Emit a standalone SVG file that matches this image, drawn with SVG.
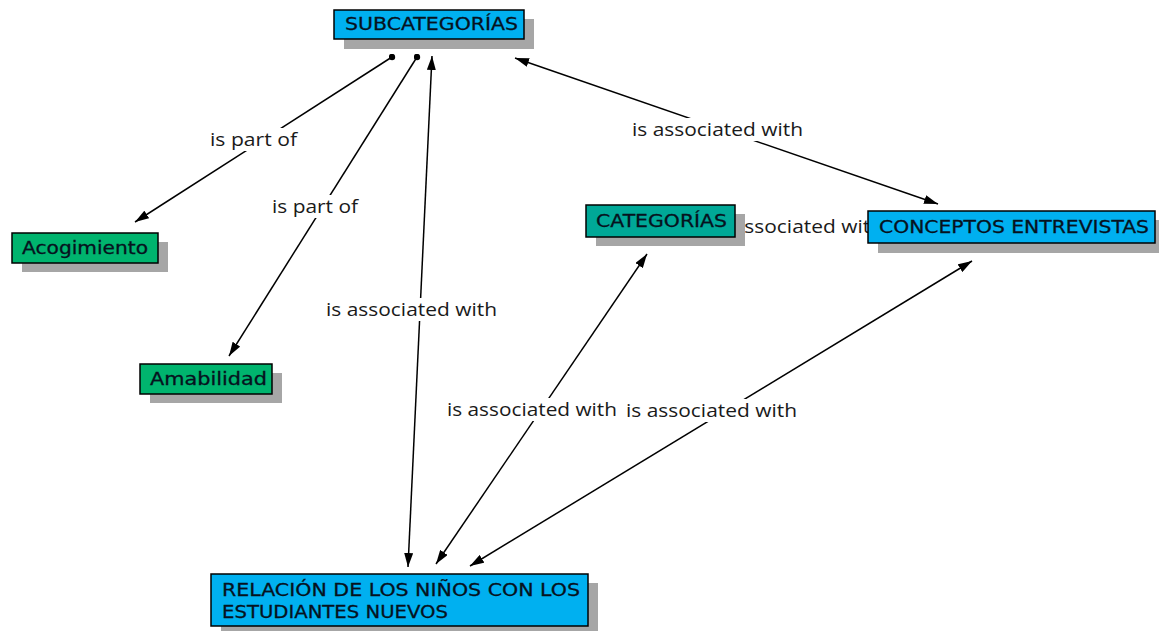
<svg xmlns="http://www.w3.org/2000/svg" width="1159" height="631" viewBox="0 0 1159 631">
<defs>
<marker id="arr" viewBox="0 0 14 9" refX="14" refY="4.5" markerWidth="14" markerHeight="9" markerUnits="userSpaceOnUse" orient="auto-start-reverse"><path d="M0,0 L14,4.5 L0,9 z" fill="#000"/></marker>
<marker id="dot" viewBox="0 0 7 7" refX="3.5" refY="3.5" markerWidth="7" markerHeight="7" markerUnits="userSpaceOnUse"><circle cx="3.5" cy="3.5" r="3.2" fill="#000"/></marker>
<style>
.ln{stroke:#000;stroke-width:1.5;fill:none}
.lb{font-family:"Open Sans","DejaVu Sans",sans-serif;font-size:18px;fill:#1a1a1a;text-anchor:start}
.lbg{fill:#fff}
.sh{fill:#a6a6a6}
.box{stroke:#000;stroke-width:1.5}
.blue{fill:#00b0f0}
.green{fill:#00b46e}
.teal{fill:#00a897}
.nt{font-family:"DejaVu Sans","Open Sans",sans-serif;font-size:17px;fill:#06121e;stroke:#06121e;stroke-width:0.3}
</style>
</defs>
<rect width="1159" height="631" fill="#fff"/>
<g id="connectors">
<line class="ln" x1="392" y1="57" x2="135" y2="222" marker-start="url(#dot)" marker-end="url(#arr)"/>
<line class="ln" x1="417" y1="57" x2="229" y2="356" marker-start="url(#dot)" marker-end="url(#arr)"/>
<line class="ln" x1="432" y1="56" x2="408" y2="567" marker-start="url(#arr)" marker-end="url(#arr)"/>
<line class="ln" x1="515" y1="58" x2="938" y2="204" marker-start="url(#arr)" marker-end="url(#arr)"/>
<line class="ln" x1="647" y1="254" x2="436" y2="564" marker-start="url(#arr)" marker-end="url(#arr)"/>
<line class="ln" x1="972" y1="261" x2="470" y2="566" marker-start="url(#arr)" marker-end="url(#arr)"/>
<g id="labels">
<rect class="lbg" x="208" y="128" width="91" height="23"/>
<text class="lb" x="210" y="146" textLength="87" lengthAdjust="spacingAndGlyphs">is part of</text>
<rect class="lbg" x="270" y="195" width="90" height="23"/>
<text class="lb" x="272" y="213" textLength="86" lengthAdjust="spacingAndGlyphs">is part of</text>
<rect class="lbg" x="324" y="298" width="175" height="23"/>
<text class="lb" x="326" y="316" textLength="171" lengthAdjust="spacingAndGlyphs">is associated with</text>
<rect class="lbg" x="630" y="118" width="175" height="23"/>
<text class="lb" x="632" y="136" textLength="171" lengthAdjust="spacingAndGlyphs">is associated with</text>
<rect class="lbg" x="445" y="398" width="174" height="23"/>
<text class="lb" x="447" y="416" textLength="170" lengthAdjust="spacingAndGlyphs">is associated with</text>
<rect class="lbg" x="624" y="399" width="175" height="23"/>
<text class="lb" x="626" y="417" textLength="171" lengthAdjust="spacingAndGlyphs">is associated with</text>
<rect class="lbg" x="710" y="215" width="175" height="23"/>
<text class="lb" x="712" y="233" textLength="171" lengthAdjust="spacingAndGlyphs">is associated with</text>
</g>
</g>
<g id="subcategorias">
<rect class="sh" x="344" y="19" width="190" height="30"/>
<rect class="box blue" x="334" y="10" width="190" height="29"/>
<text class="nt" x="345" y="30" textLength="173" lengthAdjust="spacingAndGlyphs">SUBCATEGORÍAS</text>
</g>
<g id="acogimiento">
<rect class="sh" x="22" y="242" width="146" height="30"/>
<rect class="box green" x="12" y="233" width="146" height="30"/>
<text class="nt" x="22" y="254" textLength="126" lengthAdjust="spacingAndGlyphs">Acogimiento</text>
</g>
<g id="amabilidad">
<rect class="sh" x="150" y="373" width="132" height="30"/>
<rect class="box green" x="140" y="364" width="132" height="30"/>
<text class="nt" x="150" y="385" textLength="117" lengthAdjust="spacingAndGlyphs">Amabilidad</text>
</g>
<g id="categorias">
<rect class="sh" x="596" y="214" width="149" height="32"/>
<rect class="box teal" x="586" y="205" width="149" height="32"/>
<text class="nt" x="596" y="227" textLength="131" lengthAdjust="spacingAndGlyphs">CATEGORÍAS</text>
</g>
<g id="conceptos">
<rect class="sh" x="878" y="220" width="287" height="33"/>
<rect class="box blue" x="868" y="211" width="287" height="32"/>
<text class="nt" x="879" y="233" textLength="270" lengthAdjust="spacingAndGlyphs">CONCEPTOS ENTREVISTAS</text>
</g>
<g id="relacion">
<rect class="sh" x="221" y="583" width="377" height="52"/>
<rect class="box blue" x="211" y="574" width="377" height="52"/>
<text class="nt" x="222" y="596" textLength="358" lengthAdjust="spacingAndGlyphs">RELACIÓN DE LOS NIÑOS CON LOS</text>
<text class="nt" x="222" y="618" textLength="226" lengthAdjust="spacingAndGlyphs">ESTUDIANTES NUEVOS</text>
</g>
</svg>
